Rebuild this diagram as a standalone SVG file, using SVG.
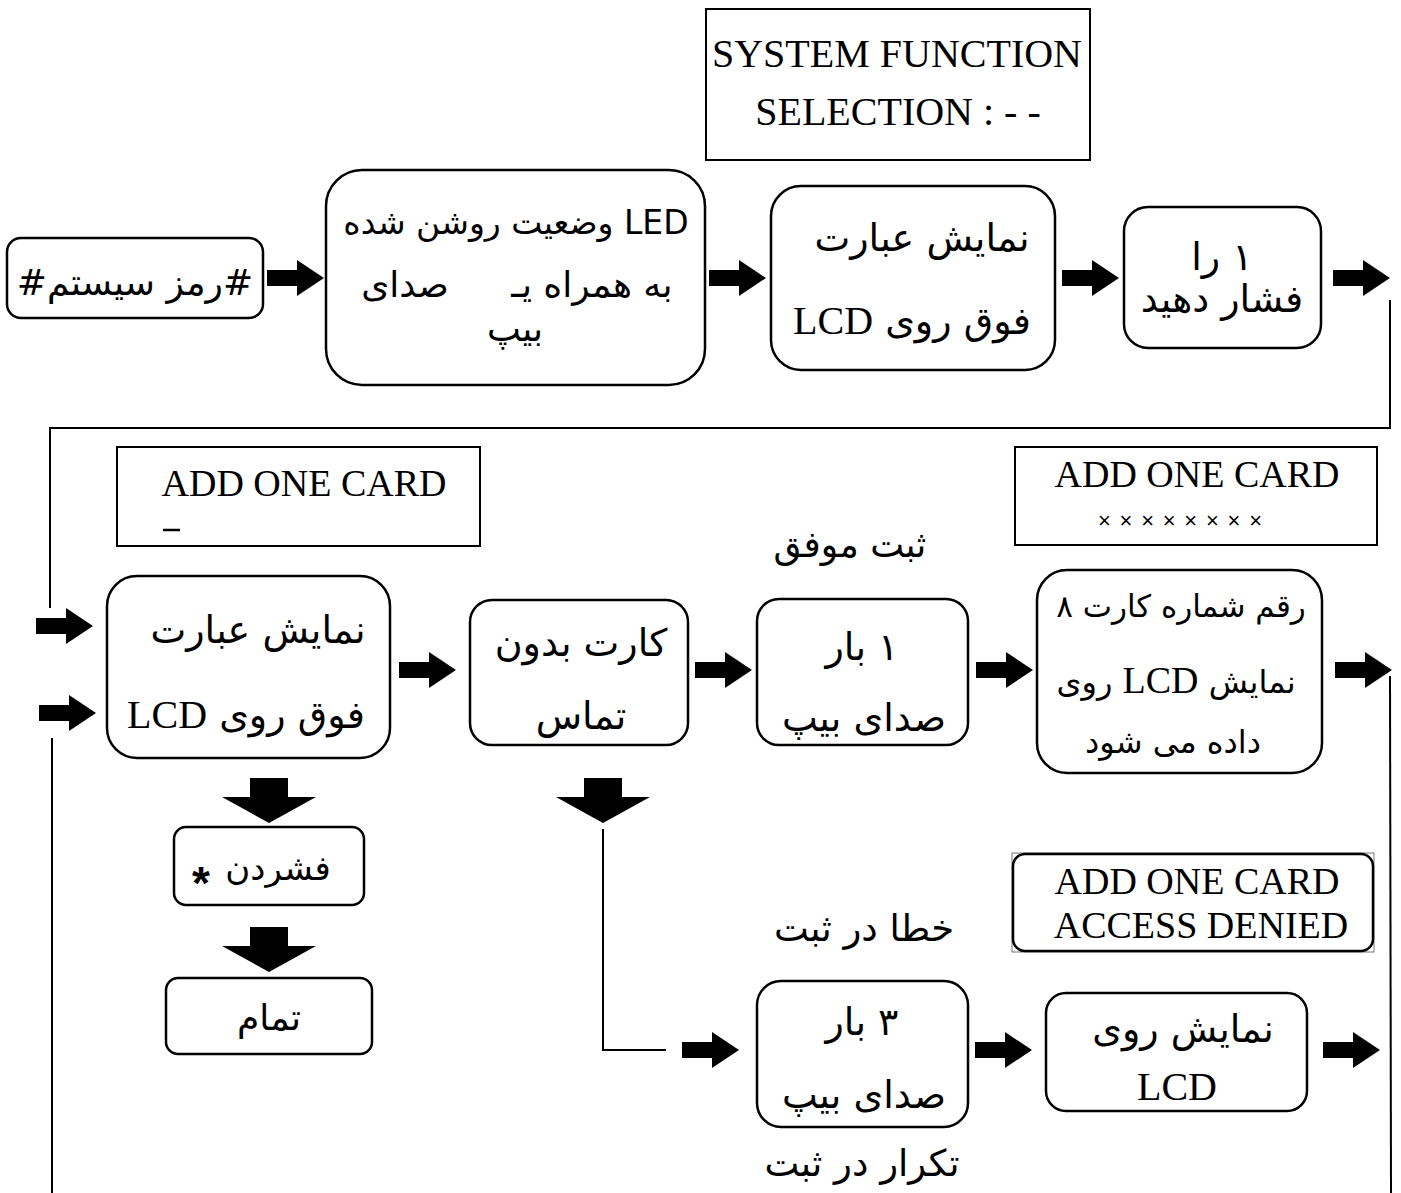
<svg xmlns="http://www.w3.org/2000/svg" width="1401" height="1193" viewBox="0 0 1401 1193">
<style>
.box{fill:#fff;stroke:#000;stroke-width:2.5}
.sq{fill:#fff;stroke:#000;stroke-width:2}
.ln{fill:none;stroke:#000;stroke-width:2}
.fa{font-family:'DejaVu Sans','Liberation Sans',sans-serif;fill:#000;text-anchor:middle;direction:rtl}
.fl{font-family:'DejaVu Sans','Liberation Sans',sans-serif;fill:#000;text-anchor:middle;direction:ltr}
.en{font-family:'Liberation Serif',serif;fill:#000;text-anchor:middle}
.lcd{font-family:'Liberation Serif',serif}
</style>
<defs>
<path id="ha" d="M0,-8 H30 V-18 L57,0 L30,18 V8 H0 Z" fill="#000"/>
<path id="va" d="M-19,0 H19 V19 H47 L0,45 L-47,19 H-19 Z" fill="#000"/>
</defs>
<rect width="1401" height="1193" fill="#fff"/>

<g id="connectors">
<use href="#ha" x="267" y="278"/>
<use href="#ha" x="709" y="278"/>
<use href="#ha" x="1062" y="278"/>
<use href="#ha" x="1333" y="278"/>
<polyline class="ln" points="1390,300 1390,428 50,428 50,608"/>
<use href="#ha" x="36" y="626"/>
<use href="#ha" x="39" y="713"/>
<line class="ln" x1="52" y1="738" x2="52" y2="1193"/>
<use href="#ha" x="399" y="670"/>
<use href="#ha" x="695" y="670"/>
<use href="#ha" x="976" y="670"/>
<use href="#ha" x="1335" y="670"/>
<line class="ln" x1="1390" y1="676" x2="1391" y2="1193"/>
<use href="#va" x="269" y="778"/>
<use href="#va" x="269" y="927"/>
<use href="#va" x="603" y="778"/>
<polyline class="ln" points="603,829 603,1050 666,1050"/>
<use href="#ha" x="682" y="1050"/>
<use href="#ha" x="975" y="1050"/>
<use href="#ha" x="1323" y="1050"/>
</g>

<g id="lcd-system">
<rect class="sq" x="706" y="9" width="384" height="151"/>
<text class="en" x="897" y="67" font-size="40">SYSTEM FUNCTION</text>
<text class="en" x="898" y="125" font-size="40">SELECTION : - -</text>
</g>

<g id="n-password">
<rect class="box" x="7" y="238" width="256" height="80" rx="14"/>
<text class="fa" x="135" y="295" font-size="36">#رمز سیستم#</text>
</g>

<g id="n-led">
<rect class="box" x="326" y="170" width="379" height="215" rx="36"/>
<text class="fa" x="516" y="234" font-size="33">LED وضعیت روشن شده</text>
<text class="fa" x="405" y="297" font-size="36">صدای</text>
<text class="fa" x="592" y="297" font-size="36">به همراه یـ</text>
<text class="fa" x="515" y="341" font-size="36">بیپ</text>
</g>

<g id="n-show1">
<rect class="box" x="771" y="186" width="284" height="184" rx="30"/>
<text class="fa" x="922" y="251" font-size="38">نمایش عبارت</text>
<text class="fa" x="912" y="334" font-size="38">فوق روی <tspan class="lcd" font-size="40">LCD</tspan></text>
</g>

<g id="n-press1">
<rect class="box" x="1124" y="207" width="197" height="141" rx="24"/>
<text class="fa" x="1222" y="270" font-size="38">۱ را</text>
<text class="fa" x="1222" y="312" font-size="38">فشار دهید</text>
</g>

<g id="lcd-add1">
<rect class="sq" x="117" y="447" width="363" height="99"/>
<text class="en" x="304" y="496" font-size="38">ADD ONE CARD</text>
<line x1="163" y1="530" x2="180" y2="530" stroke="#000" stroke-width="2.5"/>
</g>

<g id="lcd-add2">
<rect class="sq" x="1015" y="447" width="362" height="98"/>
<text class="en" x="1197" y="487" font-size="38">ADD ONE CARD</text>
<text x="1180" y="528" font-size="22" font-family="'Liberation Sans',sans-serif" text-anchor="middle" textLength="164" lengthAdjust="spacing">××××××××</text>
</g>

<g id="n-show2">
<rect class="box" x="107" y="576" width="283" height="182" rx="30"/>
<text class="fa" x="258" y="643" font-size="38">نمایش عبارت</text>
<text class="fa" x="246" y="728" font-size="38">فوق روی <tspan class="lcd" font-size="40">LCD</tspan></text>
</g>

<g id="n-card">
<rect class="box" x="470" y="600" width="218" height="145" rx="22"/>
<text class="fa" x="581" y="656" font-size="38">کارت بدون</text>
<text class="fa" x="581" y="729" font-size="38">تماس</text>
</g>

<text class="fa" x="850" y="557" font-size="36">ثبت موفق</text>

<g id="n-beep1">
<rect class="box" x="757" y="599" width="211" height="146" rx="22"/>
<text class="fa" x="862" y="660" font-size="38">۱ بار</text>
<text class="fa" x="864" y="731" font-size="38">صدای بیپ</text>
</g>

<g id="n-digits">
<rect class="box" x="1037" y="570" width="285" height="203" rx="30"/>
<text class="fl" x="1181" y="617" font-size="31">۸ رقم شماره کارت</text>
<text class="fl" x="1176" y="693" font-size="32">روی <tspan class="lcd" font-size="38">LCD</tspan> نمایش</text>
<text class="fa" x="1173" y="753" font-size="32">داده می شود</text>
</g>

<g id="n-star">
<rect class="box" x="174" y="827" width="190" height="78" rx="12"/>
<text class="fa" x="278" y="880" font-size="34">فشردن</text>
<text x="201" y="899" font-size="46" font-weight="bold" font-family="'Liberation Sans',sans-serif" text-anchor="middle">*</text>
</g>

<g id="n-end">
<rect class="box" x="166" y="978" width="206" height="76" rx="12"/>
<text class="fa" x="269" y="1030" font-size="36">تمام</text>
</g>

<g id="lcd-denied">
<rect x="1012" y="853" width="362" height="99" fill="none" stroke="#555" stroke-width="0.8"/>
<rect class="box" x="1013" y="854" width="360" height="97" rx="12"/>
<text class="en" x="1197" y="894" font-size="38">ADD ONE CARD</text>
<text class="en" x="1201" y="938" font-size="38">ACCESS DENIED</text>
</g>

<text class="fa" x="864" y="941" font-size="37">خطا در ثبت</text>

<g id="n-beep3">
<rect class="box" x="757" y="981" width="211" height="146" rx="24"/>
<text class="fa" x="862" y="1035" font-size="38">۳ بار</text>
<text class="fa" x="864" y="1108" font-size="38">صدای بیپ</text>
</g>

<g id="n-show3">
<rect class="box" x="1046" y="993" width="261" height="118" rx="20"/>
<text class="fa" x="1183" y="1042" font-size="38">نمایش روی</text>
<text class="en" x="1177" y="1100" font-size="40">LCD</text>
</g>

<text class="fa" x="862" y="1176" font-size="37">تکرار در ثبت</text>
</svg>
